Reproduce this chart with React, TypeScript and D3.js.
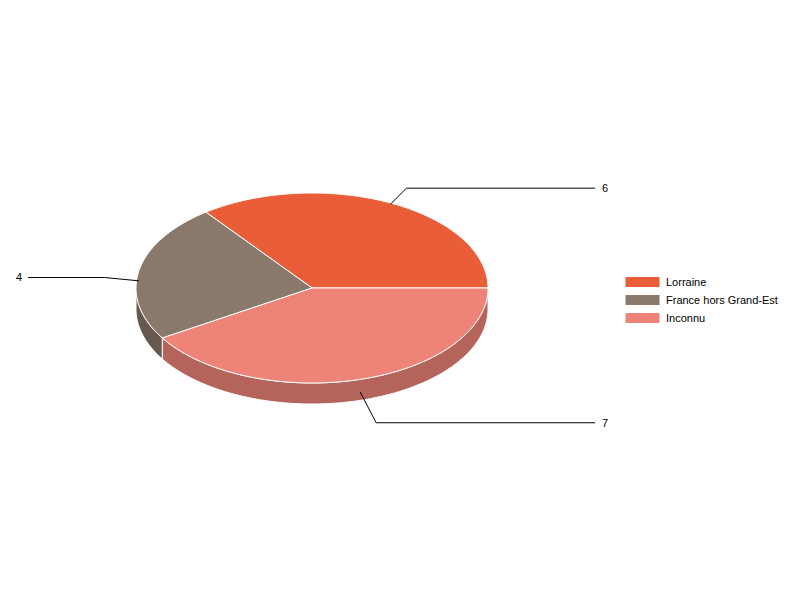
import { useMemo } from "react";
import * as d3 from "d3";

const categories = ["Lorraine", "France hors Grand-Est", "Inconnu"];
const values = [6, 4, 7];
const topColors = ["#E95E38", "#8A786B", "#EE8477"];
const sideColors = ["#A8432A", "#66584F", "#B4645B"];

const width = 800;
const height = 600;

export default function App() {
  const cx = 312;
  const cy = 288;
  const rx = 176;
  const ry = 95;
  const depth = 21;

  // d3.pie angles: clockwise from north; start at east and run counter-clockwise
  const arcs = useMemo(
    () =>
      d3
        .pie<number>()
        .sort(null)
        .startAngle(Math.PI / 2)
        .endAngle(Math.PI / 2 - 2 * Math.PI)(values),
    [],
  );

  // convert to math angle (counter-clockwise from east)
  const slices = arcs.map((a, i) => {
    const t0 = Math.PI / 2 - a.startAngle;
    const t1 = Math.PI / 2 - a.endAngle;
    return { i, t0: Math.min(t0, t1), t1: Math.max(t0, t1) };
  });

  const px = (t: number) => cx + rx * Math.cos(t);
  const py = (t: number) => cy - ry * Math.sin(t);
  const line = d3.line<[number, number]>();

  const sample = (t0: number, t1: number, off = 0) => {
    const n = Math.max(2, Math.ceil(((t1 - t0) * 180) / Math.PI));
    return d3.range(n + 1).map((k) => {
      const t = t0 + ((t1 - t0) * k) / n;
      return [px(t), py(t) + off] as [number, number];
    });
  };

  const topPath = (t0: number, t1: number) =>
    line([[cx, cy], ...sample(t0, t1)]) + "Z";

  const sidePath = (t0: number, t1: number) => {
    const a = Math.max(t0, Math.PI);
    const b = Math.min(t1, 2 * Math.PI);
    if (b <= a) return null;
    const top = sample(a, b);
    const bottom = sample(a, b, depth).reverse();
    return line([...top, ...bottom]) + "Z";
  };

  const labels = slices.map((s) => {
    const mid = (s.t0 + s.t1) / 2;
    const c = Math.cos(mid);
    const sn = Math.sin(mid);
    const sx = px(mid);
    const sy = py(mid) + depth * 0.6 * Math.min(1, 1 - sn);
    const right = c >= 0;
    const ex = sx + (right ? 1 : -1) * Math.max(16, 35 * Math.abs(c));
    const ey = sy - sn * (sn > 0 ? 18 : 32);
    const lx = right ? 595 : 28;
    return { s, sx, sy, ex, ey, lx, right };
  });

  const legendX = 625;
  const legendY = 282;
  const legendStep = 18;

  return (
    <div style={{ position: "fixed", left: 0, top: 0 }}>
      <svg width={width} height={height} style={{ display: "block", background: "#fff" }}>
        {/* side walls */}
        {slices.map((s) => {
          const d = sidePath(s.t0, s.t1);
          return d ? (
            <path key={`side-${s.i}`} d={d} fill={sideColors[s.i]} stroke="#fff" strokeWidth={1} strokeLinejoin="round" />
          ) : null;
        })}
        {/* top faces */}
        {slices.map((s) => (
          <path key={`top-${s.i}`} d={topPath(s.t0, s.t1)} fill={topColors[s.i]} stroke="#fff" strokeWidth={1} strokeLinejoin="round" />
        ))}
        {/* leader lines + values */}
        {labels.map((l) => (
          <g key={`lab-${l.s.i}`}>
            <polyline
              points={`${l.sx},${l.sy} ${l.ex},${l.ey} ${l.lx},${l.ey}`}
              fill="none"
              stroke="#000"
              strokeWidth={1}
            />
            <text
              x={l.right ? l.lx + 7 : l.lx - 6}
              y={l.ey}
              dy="0.35em"
              textAnchor={l.right ? "start" : "end"}
              fontSize={11}
              fontFamily="Liberation Sans, Arial, sans-serif"
              fill="#000"
            >
              {values[l.s.i]}
            </text>
          </g>
        ))}
        {/* legend */}
        {categories.map((name, i) => (
          <g key={`leg-${name}`} transform={`translate(${legendX},${legendY + i * legendStep})`}>
            <rect x={0} y={-5.5} width={35} height={11} fill={topColors[i]} stroke="#fff" strokeWidth={1} />
            <text
              x={41}
              y={0}
              dy="0.35em"
              fontSize={11}
              fontFamily="Liberation Sans, Arial, sans-serif"
              fill="#000"
            >
              {name}
            </text>
          </g>
        ))}
      </svg>
    </div>
  );
}
